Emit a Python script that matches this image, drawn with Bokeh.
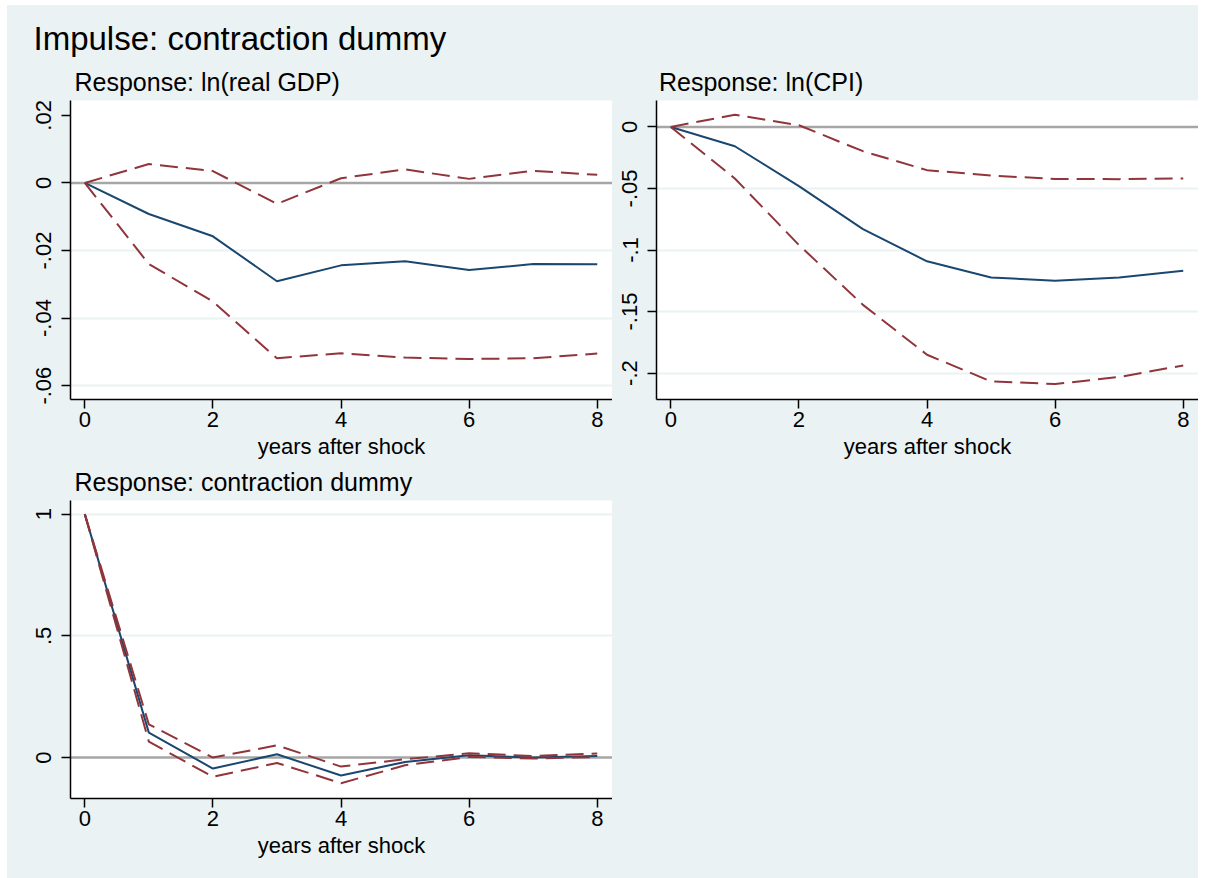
from bokeh.plotting import figure
from bokeh.layouts import column, row
from bokeh.models import Range1d, FixedTicker, Span, Title, Spacer
from bokeh.embed import file_html
from bokeh.resources import INLINE

# ---------------- data ----------------
steps = [0, 1, 2, 3, 4, 5, 6, 7, 8]

gdp_irf = [0, -0.0092, -0.0158, -0.0291, -0.0244, -0.0232, -0.0258, -0.0240, -0.0241]
gdp_upper = [0, 0.0056, 0.0035, -0.0062, 0.0014, 0.0040, 0.0012, 0.0036, 0.0024]
gdp_lower = [0, -0.0240, -0.0351, -0.0519, -0.0504, -0.0517, -0.0521, -0.0519, -0.0505]

cpi_irf = [0, -0.0157, -0.0481, -0.0830, -0.1092, -0.1224, -0.1249, -0.1224, -0.1168]
cpi_upper = [0, 0.0100, 0.0014, -0.0197, -0.0351, -0.0395, -0.0422, -0.0424, -0.0419]
cpi_lower = [0, -0.0419, -0.0959, -0.1446, -0.1851, -0.2068, -0.2089, -0.2032, -0.1938]

dummy_irf = [1.0, 0.1025, -0.0450, 0.0137, -0.0738, -0.0178, 0.0096, 0.0000, 0.0068]
dummy_upper = [1.0, 0.1366, 0.0000, 0.0505, -0.0369, -0.0068, 0.0178, 0.0068, 0.0164]
dummy_lower = [1.0, 0.0656, -0.0792, -0.0219, -0.1052, -0.0314, 0.0027, -0.0041, 0.0027]

x_ticks = [0, 2, 4, 6, 8]
x_tick_labels = ["0", "2", "4", "6", "8"]
gdp_ticks = [0.02, 0, -0.02, -0.04, -0.06]
gdp_tick_labels = [".02", "0", "-.02", "-.04", "-.06"]
gdp_grid = [-0.02, -0.04, -0.06]
cpi_ticks = [0, -0.05, -0.1, -0.15, -0.2]
cpi_tick_labels = ["0", "-.05", "-.1", "-.15", "-.2"]
cpi_grid = [-0.05, -0.1, -0.15, -0.2]
dummy_ticks = [1, 0.5, 0]
dummy_tick_labels = ["1", ".5", "0"]
dummy_grid = [1, 0.5]

zero_line = 0

main_title = "Impulse: contraction dummy"
sub_gdp = "Response: ln(real GDP)"
sub_cpi = "Response: ln(CPI)"
sub_dummy = "Response: contraction dummy"
x_title = "years after shock"

# ---------------- style ----------------
BG = "#EAF2F3"
NAVY = "#1A476F"
MAROON = "#90353B"
ZERO = "#A6A6A6"
FONT = "Liberation Sans"
X_RANGE = (-0.223, 8.238)


def style_title(t, text, offset, size, standoff):
    t.text = text
    t.align = "left"
    t.offset = offset
    t.text_font = FONT
    t.text_font_size = size
    t.text_font_style = "normal"
    t.text_color = "black"
    t.standoff = standoff


def make_panel(width, height, mbl, mbr, mbt, mbb, yrange, ticks, labels, grid,
               irf, lo, hi, subtitle, sub_offset, sub_standoff, xlabel, header=None):
    p = figure(width=width, height=height, output_backend="svg", toolbar_location=None,
               x_range=Range1d(*X_RANGE), y_range=Range1d(*yrange),
               min_border_left=mbl, min_border_right=mbr,
               min_border_top=mbt, min_border_bottom=mbb)
    p.border_fill_color = BG
    p.background_fill_color = "white"
    p.outline_line_color = None

    if header is None:
        style_title(p.title, subtitle, sub_offset, "25px", sub_standoff)
    else:
        style_title(p.title, header, -37, "33px", 8)
        sub = Title()
        style_title(sub, subtitle, sub_offset, "25px", sub_standoff)
        p.add_layout(sub, "above")

    p.xgrid.visible = False
    p.ygrid.ticker = FixedTicker(ticks=grid)
    p.ygrid.grid_line_color = BG
    p.ygrid.grid_line_width = 2

    for ax in (p.xaxis[0], p.yaxis[0]):
        ax.axis_line_color = "black"
        ax.axis_line_width = 1.5
        ax.major_tick_line_color = "black"
        ax.major_tick_line_width = 1.5
        ax.major_tick_in = 0
        ax.major_tick_out = 9
        ax.minor_tick_line_color = None
        ax.major_label_text_font = FONT
        ax.major_label_text_font_size = "22px"
        ax.major_label_text_color = "black"

    p.xaxis.ticker = FixedTicker(ticks=x_ticks)
    p.xaxis.major_label_overrides = {t: l for t, l in zip(x_ticks, x_tick_labels)}
    p.xaxis.major_label_standoff = 3
    p.xaxis.axis_label = xlabel
    p.xaxis.axis_label_text_font = FONT
    p.xaxis.axis_label_text_font_size = "22px"
    p.xaxis.axis_label_text_font_style = "normal"
    p.xaxis.axis_label_text_color = "black"
    p.xaxis.axis_label_standoff = 4

    p.yaxis.ticker = FixedTicker(ticks=ticks)
    p.yaxis.major_label_overrides = {t: l for t, l in zip(ticks, labels)}
    p.yaxis.major_label_orientation = "vertical"
    p.yaxis.major_label_standoff = 10

    p.add_layout(Span(location=zero_line, dimension="width", line_color=ZERO,
                      line_width=2.5, level="underlay"))

    p.line(steps, irf, line_color=NAVY, line_width=2)
    p.line(steps, hi, line_color=MAROON, line_width=2, line_dash="18 8")
    p.line(steps, lo, line_color=MAROON, line_width=2, line_dash="18 8")
    return p


# canvas origin sits at page (7, 5); widths: 605 + 586 = 1191, heights: 456 + 417 = 873
p1 = make_panel(605, 456, 63, 0, 95, 62, (-0.0641, 0.0244), gdp_ticks, gdp_tick_labels,
                gdp_grid, gdp_irf, gdp_lower, gdp_upper, sub_gdp, 4, 10, x_title,
                header=main_title)

p2 = make_panel(586, 456, 44, 0, 95, 62, (-0.2215, 0.0215), cpi_ticks, cpi_tick_labels,
                cpi_grid, cpi_irf, cpi_lower, cpi_upper, sub_cpi, 2.5, 10, x_title)

p3 = make_panel(605, 417, 63, 0, 38, 80, (-0.168, 1.056), dummy_ticks, dummy_tick_labels,
                dummy_grid, dummy_irf, dummy_lower, dummy_upper, sub_dummy, 4, 9, x_title)

p4 = figure(width=586, height=417, output_backend="svg", toolbar_location=None,
            x_range=Range1d(0, 1), y_range=Range1d(0, 1),
            min_border_left=0, min_border_right=0, min_border_top=0, min_border_bottom=0)
p4.border_fill_color = BG
p4.background_fill_color = BG
p4.outline_line_color = None
p4.axis.visible = False
p4.grid.visible = False

bg_style = {"background-color": BG}
grid = column(row(p1, p2, styles=bg_style), row(p3, p4, styles=bg_style), styles=bg_style)
layout = column(Spacer(width=1198, height=5), row(Spacer(width=7, height=873), grid))

with open("out.html", "w") as f:
    f.write(file_html(layout, INLINE, title="Impulse responses"))
